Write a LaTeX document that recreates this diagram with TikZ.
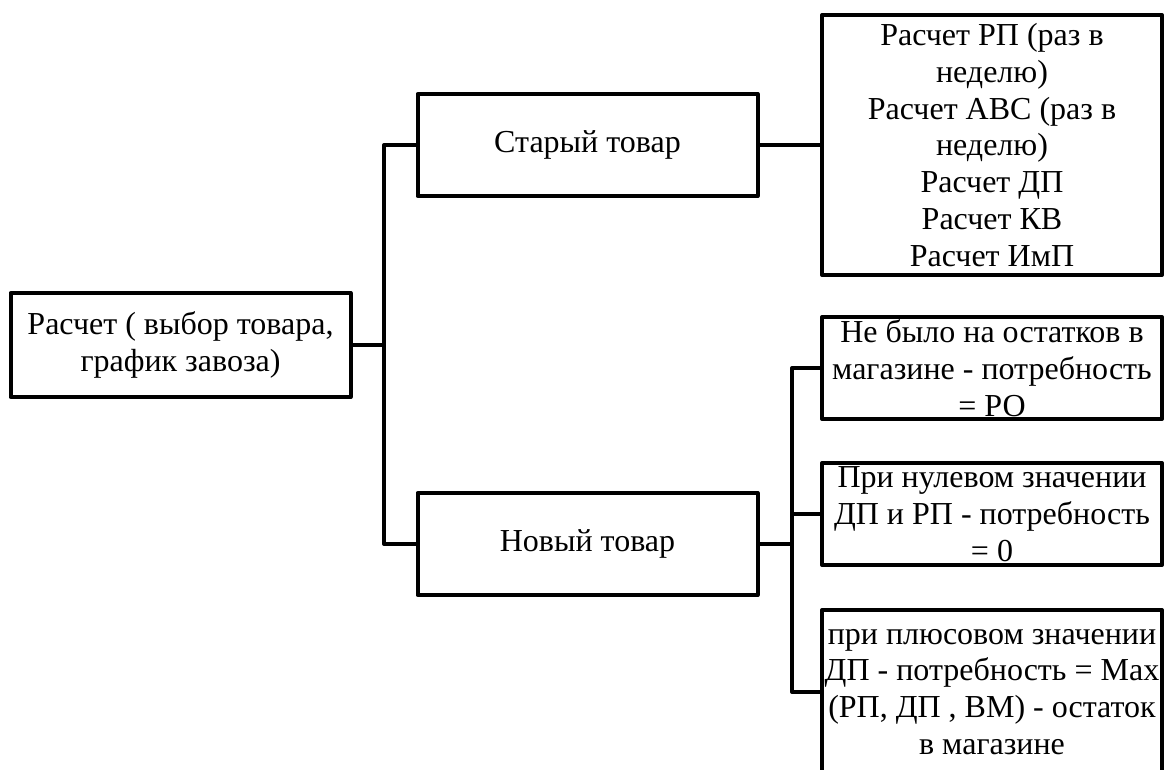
\documentclass[tikz,border=0pt]{standalone}
\usepackage{fontspec}
\setmainfont{Liberation Serif}
\begin{document}
\begin{tikzpicture}[x=1pt,y=-1pt,
  box/.style={draw=black,line width=4pt,line join=round,inner sep=0pt,align=center,
    minimum width=340pt,font=\fontsize{32}{36.8}\selectfont},
  conn/.style={draw=black,line width=4pt,line join=round}]
\useasboundingbox (0,0) rectangle (1164,770);
\begin{scope}
\clip (0,0) rectangle (1164,770);
\node[box,minimum height=104pt] (root) at (180.5,345) {Расчет ( выбор товара,\\график завоза)};
\node[box,minimum height=102pt] (old) at (587.5,145) {Старый товар};
\node[box,minimum height=102pt] (new) at (587.5,544) {Новый товар};
\node[box,minimum height=260pt] (tr) at (992,145) {Расчет РП (раз в\\неделю)\\Расчет АВС (раз в\\неделю)\\Расчет ДП\\Расчет КВ\\Расчет ИмП};
\node[box,minimum height=102pt] (b1) at (992,368) {Не было на остатков в\\магазине - потребность\\= РО};
\node[box,minimum height=102pt] (b2) at (992,514) {При нулевом значении\\ДП и РП - потребность\\= 0};
\node[box,minimum height=164pt] (b3) at (992,692) {при плюсовом значении\\ДП - потребность = Max\\(РП, ДП , ВМ) - остаток\\в магазине};
\coordinate (j1) at (384,345);
\coordinate (j2) at (792,544);
\draw[conn] (root.east) -- (j1);
\draw[conn] (old.west) -| (j1) |- (new.west);
\draw[conn] (old.east) -- (tr.west);
\draw[conn] (new.east) -- (j2);
\draw[conn] (b1.west) -| (j2) |- (b3.west);
\draw[conn] (j2 |- b2.west) -- (b2.west);
\end{scope}
\end{tikzpicture}
\end{document}
